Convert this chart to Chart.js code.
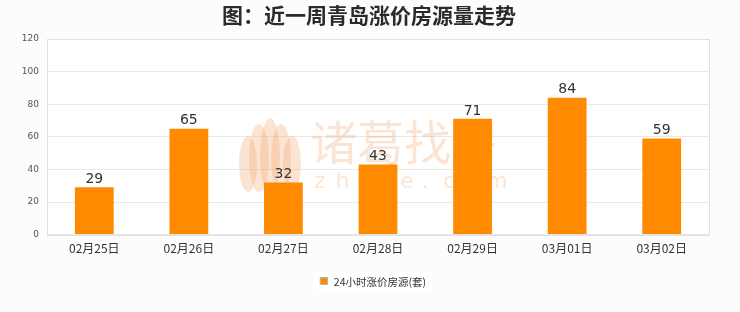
<!DOCTYPE html>
<html>
<head>
<meta charset="utf-8">
<script src="https://cdn.jsdelivr.net/npm/chart.js@4/dist/chart.umd.min.js"></script>
<style>
  html, body { margin: 0; padding: 0; background: #fcfcfc; }
  #wrap { position: relative; width: 740px; height: 312px; }
  canvas { display: block; }
</style>
</head>
<body>
<div id="wrap"><canvas id="c" width="740" height="312"></canvas></div>
<script>
// Daily count of listings with raised prices, Qingdao, last week
const titleText = '图：近一周青岛涨价房源量走势';
const seriesName = '24小时涨价房源(套)';
const dates = ['02月25日', '02月26日', '02月27日', '02月28日', '02月29日', '03月01日', '03月02日'];
const raisedCounts = [29, 65, 32, 43, 71, 84, 59];
const yTicks = [0, 20, 40, 60, 80, 100, 120];

const barColor = '#ff8a00';
const cjk = '"Noto Sans CJK SC", "Noto Sans", sans-serif';

// White plot background, faint brand mark behind the bars, frame and heading
const plotDecor = {
  id: 'plotDecor',
  beforeDatasetsDraw(chart) {
    const { ctx } = chart;
    ctx.save();
    ctx.fillStyle = 'rgba(242,165,110,0.3)';
    // lotus petals
    const cx = 270, cy = 156;
    const petals = [[-22, 8, 9, 28], [-11, 2, 10, 34], [0, 0, 10, 38], [11, 2, 10, 34], [22, 8, 9, 28]];
    petals.forEach(p => {
      ctx.beginPath();
      ctx.ellipse(cx + p[0], cy + p[1], p[2], p[3], 0, 0, Math.PI * 2);
      ctx.fill();
    });
    ctx.font = '47px ' + cjk;
    ctx.textBaseline = 'middle';
    ctx.textAlign = 'left';
    ctx.fillText('诸葛找房', 310, 142);
    ctx.font = '22px "DejaVu Sans", sans-serif';
    'zhuge.com'.split('').forEach((ch, i) => ctx.fillText(ch, 314 + i * 21.5, 182));
    ctx.restore();
  },
  beforeDraw(chart) {
    const { ctx, chartArea: a } = chart;
    ctx.save();
    ctx.fillStyle = '#ffffff';
    ctx.fillRect(a.left, a.top, a.right - a.left, a.bottom - a.top);
    ctx.restore();
  },
  afterDraw(chart) {
    const { ctx, chartArea: a } = chart;
    ctx.save();
    ctx.strokeStyle = '#e0e0e0';
    ctx.lineWidth = 1;
    ctx.strokeRect(Math.round(a.left) + 0.5, Math.round(a.top) + 0.5, Math.round(a.right - a.left), Math.round(a.bottom - a.top));
    // heading, centred on the page
    ctx.fillStyle = '#2a2a2a';
    ctx.font = 'bold 21px ' + cjk;
    ctx.textAlign = 'center';
    ctx.textBaseline = 'middle';
    ctx.fillText(titleText, 369, 15);
    ctx.restore();
  }
};

// Value labels above each bar
const valueLabels = {
  id: 'valueLabels',
  afterDatasetsDraw(chart) {
    const { ctx } = chart;
    const meta = chart.getDatasetMeta(0);
    ctx.save();
    ctx.fillStyle = '#333';
    ctx.font = '14px "DejaVu Sans", sans-serif';
    ctx.textAlign = 'center';
    ctx.textBaseline = 'bottom';
    meta.data.forEach((bar, i) => {
      ctx.fillText(String(raisedCounts[i]), bar.x, bar.y - 1);
    });
    ctx.restore();
  }
};

// Legend box with white background under the axis
const legendBox = {
  id: 'legendBox',
  afterDraw(chart) {
    const { ctx } = chart;
    ctx.save();
    ctx.font = '10.5px ' + cjk;
    const tw = ctx.measureText(seriesName).width;
    const total = 8 + 6 + tw;
    const x0 = 373 - total / 2;
    const y = 281;
    ctx.fillStyle = '#ffffff';
    ctx.fillRect(x0 - 6, 272, total + 12, 18);
    ctx.fillStyle = barColor;
    ctx.fillRect(x0, y - 4, 8, 8);
    ctx.strokeStyle = '#b5b5b5';
    ctx.lineWidth = 1;
    ctx.strokeRect(x0 + 0.5, y - 3.5, 7, 7);
    ctx.fillStyle = '#333';
    ctx.textBaseline = 'middle';
    ctx.fillText(seriesName, x0 + 14, y + 1);
    ctx.restore();
  }
};

new Chart(document.getElementById('c'), {
  type: 'bar',
  data: {
    labels: dates,
    datasets: [{
      label: seriesName,
      data: raisedCounts,
      backgroundColor: barColor,
      borderWidth: 0,
      categoryPercentage: 0.82,
      barPercentage: 0.5
    }]
  },
  options: {
    responsive: false,
    animation: false,
    layout: { padding: { left: 0, right: 31, top: 39, bottom: 49 } },
    plugins: {
      legend: { display: false },
      tooltip: { enabled: false },
      title: { display: false }
    },
    scales: {
      x: {
        grid: { display: false, drawTicks: false },
        border: { display: false },
        ticks: { color: '#333', font: { family: cjk, size: 12 }, padding: 7, maxRotation: 0 }
      },
      y: {
        min: 0,
        max: 120,
        afterBuildTicks(axis) { axis.ticks = yTicks.map(v => ({ value: v })); },
        afterFit(axis) { axis.width = 47; },
        grid: { color: '#e8e8e8', drawTicks: false },
        border: { display: false },
        ticks: { color: '#555', font: { family: '"DejaVu Sans", sans-serif', size: 9 }, padding: 8 }
      }
    }
  },
  plugins: [plotDecor, valueLabels, legendBox]
});
</script>
</body>
</html>
